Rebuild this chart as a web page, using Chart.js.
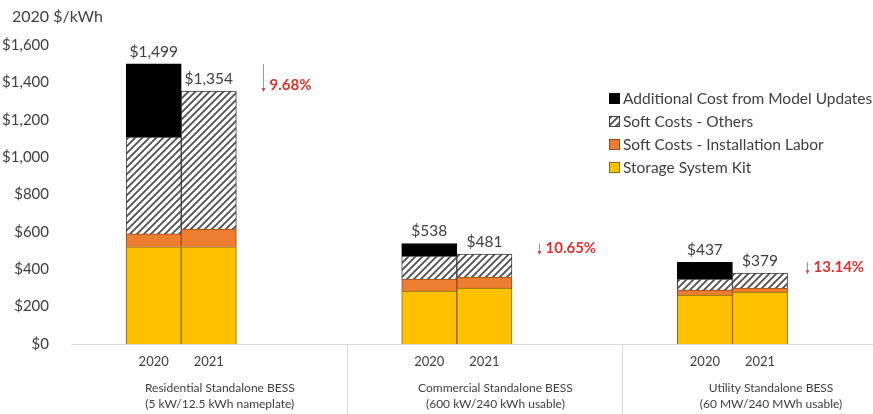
<!DOCTYPE html>
<html>
<head>
<meta charset="utf-8">
<script src="https://cdn.jsdelivr.net/npm/chart.js@4.4.1/dist/chart.umd.min.js"></script>
<style>
  html, body { margin: 0; padding: 0; background: #fff; overflow: hidden; }
  #wrap { width: 873px; height: 414px; }
</style>
</head>
<body>
<div id="wrap"><canvas id="costChart"></canvas></div>
<script>
const years = ['2020', '2021'];
const segments = [
  ['Residential Standalone BESS', '(5 kW/12.5 kWh nameplate)'],
  ['Commercial Standalone BESS', '(600 kW/240 kWh usable)'],
  ['Utility Standalone BESS', '(60 MW/240 MWh usable)']
];
// one value per bar: res 2020, res 2021, com 2020, com 2021, util 2020, util 2021
const storageKit   = [520, 520, 283, 299, 262, 278];
const installLabor = [69, 95, 65, 59, 27, 21];
const softOthers   = [518, 739, 123, 123, 59, 80];
const modelUpdates = [392, null, 67, null, 89, null];
const totals   = [1499, 1354, 538, 481, 437, 379];
const declines = ['9.68%', '10.65%', '13.14%'];

const FONT = 'Lato, "Open Sans", sans-serif';
const TEXT = '#404040';

// each segment takes 5 slots on the x scale, the two years sit in slots 1 and 2
const slotOf = i => Math.floor(i / 2) * 5 + 1 + (i % 2);

const canvas = document.getElementById('costChart');
const ctx = canvas.getContext('2d');

function hatchPattern() {
  const c = document.createElement('canvas');
  c.width = 7; c.height = 7;
  const g = c.getContext('2d');
  g.fillStyle = '#fff';
  g.fillRect(0, 0, 7, 7);
  g.strokeStyle = '#505050';
  g.lineWidth = 1.8;
  g.beginPath();
  g.moveTo(0, 7); g.lineTo(7, 0);
  g.moveTo(-1, 1); g.lineTo(1, -1);
  g.moveTo(6, 8); g.lineTo(8, 6);
  g.stroke();
  return ctx.createPattern(c, 'repeat');
}

const toPoints = arr => arr.map((v, i) => ({ x: slotOf(i), y: v }));

// draws totals, change arrows, separators, legend and unit label
const overlay = {
  id: 'overlay',
  afterDraw(chart) {
    const { ctx, chartArea } = chart;
    const x = chart.scales.x, y = chart.scales.y;
    ctx.save();

    ctx.font = '16px ' + FONT;
    ctx.fillStyle = TEXT;
    ctx.textBaseline = 'middle';
    ctx.textAlign = 'left';
    ctx.fillText('2020 $/kWh', 12, 17);

    ctx.font = '15.5px ' + FONT;
    ctx.textAlign = 'center';
    ctx.textBaseline = 'alphabetic';
    totals.forEach((t, i) => {
      ctx.fillText('$' + t.toLocaleString('en-US'), x.getPixelForValue(slotOf(i)), y.getPixelForValue(t) - 7);
    });

    // segment separators below the axis
    ctx.strokeStyle = '#d9d9d9';
    ctx.lineWidth = 1;
    [0, 1].forEach(g => {
      const px = Math.round(x.getPixelForValue(g * 5 + 4.5)) + 0.5;
      ctx.beginPath();
      ctx.moveTo(px, chartArea.bottom);
      ctx.lineTo(px, chart.height);
      ctx.stroke();
    });

    // decline arrows, from the 2020 total down to the 2021 total
    const arrowAt = [2.98, 7.99, 12.86];
    declines.forEach((d, g) => {
      const ax = Math.round(x.getPixelForValue(arrowAt[g])) + 0.5;
      const y0 = y.getPixelForValue(totals[g * 2]);
      const y1 = y.getPixelForValue(totals[g * 2 + 1]);
      ctx.strokeStyle = '#9a9a9a';
      ctx.lineWidth = 1;
      ctx.beginPath();
      ctx.moveTo(ax, y0);
      ctx.lineTo(ax, y1 - 2);
      ctx.stroke();
      ctx.fillStyle = '#c0504d';
      ctx.beginPath();
      ctx.moveTo(ax - 2, y1 - 3);
      ctx.lineTo(ax + 2, y1 - 3);
      ctx.lineTo(ax, y1 + 1);
      ctx.closePath();
      ctx.fill();
      ctx.font = 'bold 15px ' + FONT;
      ctx.fillStyle = '#e0302c';
      ctx.textAlign = 'left';
      ctx.textBaseline = 'middle';
      ctx.fillText(d, ax + 6, y1 - 6);
    });

    // legend, top series first
    const items = chart.data.datasets.slice().reverse();
    ctx.font = '15.5px ' + FONT;
    ctx.textAlign = 'left';
    ctx.textBaseline = 'middle';
    items.forEach((ds, k) => {
      const yc = 98 + k * 23;
      ctx.fillStyle = ds.backgroundColor;
      ctx.fillRect(609, yc - 5, 11, 11);
      ctx.strokeStyle = ds.borderColor;
      ctx.lineWidth = 1;
      ctx.strokeRect(609.5, yc - 4.5, 10, 10);
      ctx.fillStyle = TEXT;
      ctx.fillText(ds.label, 623, yc + 1);
    });

    ctx.restore();
  }
};

new Chart(ctx, {
  type: 'bar',
  data: {
    datasets: [
      { label: 'Storage System Kit', data: toPoints(storageKit),
        backgroundColor: '#ffc000', borderColor: '#8a6a10', borderWidth: 1 },
      { label: 'Soft Costs - Installation Labor', data: toPoints(installLabor),
        backgroundColor: '#ed7d31', borderColor: '#9a4a1a', borderWidth: 1 },
      { label: 'Soft Costs - Others', data: toPoints(softOthers),
        backgroundColor: hatchPattern(), borderColor: '#404040', borderWidth: 1 },
      { label: 'Additional Cost from Model Updates', data: toPoints(modelUpdates),
        backgroundColor: '#000000', borderColor: '#000000', borderWidth: 1 }
    ]
  },
  options: {
    responsive: true,
    maintainAspectRatio: false,
    animation: false,
    barPercentage: 1,
    categoryPercentage: 1,
    layout: { padding: { top: 45, right: 0, bottom: 0, left: 0 } },
    plugins: {
      legend: { display: false },
      tooltip: { enabled: false }
    },
    scales: {
      x: {
        type: 'linear',
        stacked: true,
        offset: false,
        min: -0.5,
        max: 14.05,
        afterFit: s => { s.height = 26; },
        grid: { display: false, drawTicks: false },
        border: { display: true, color: '#d9d9d9' },
        afterBuildTicks: s => { s.ticks = totals.map((t, i) => ({ value: slotOf(i) })); },
        ticks: {
          autoSkip: false, maxRotation: 0, padding: 10,
          color: TEXT, font: { family: FONT, size: 13 },
          callback: (v, i) => years[i % 2]
        }
      },
      x2: {
        type: 'linear',
        position: 'bottom',
        offset: false,
        min: -0.5,
        max: 14.05,
        afterFit: s => { s.height = 44; },
        grid: { display: false, drawTicks: false },
        border: { display: false },
        afterBuildTicks: s => { s.ticks = segments.map((sg, g) => ({ value: g * 5 + 2.2 })); },
        ticks: {
          autoSkip: false, maxRotation: 0, padding: 10,
          color: TEXT, font: { family: FONT, size: 12, lineHeight: 1.33 },
          callback: (v, i) => segments[i]
        }
      },
      y: {
        stacked: true,
        min: 0,
        max: 1600,
        afterFit: s => { s.width = 71; },
        grid: { display: false },
        border: { display: false },
        ticks: {
          stepSize: 200, padding: 14,
          color: TEXT, font: { family: FONT, size: 15 },
          callback: v => '$' + v.toLocaleString('en-US')
        }
      }
    }
  },
  plugins: [overlay]
});
</script>
</body>
</html>
